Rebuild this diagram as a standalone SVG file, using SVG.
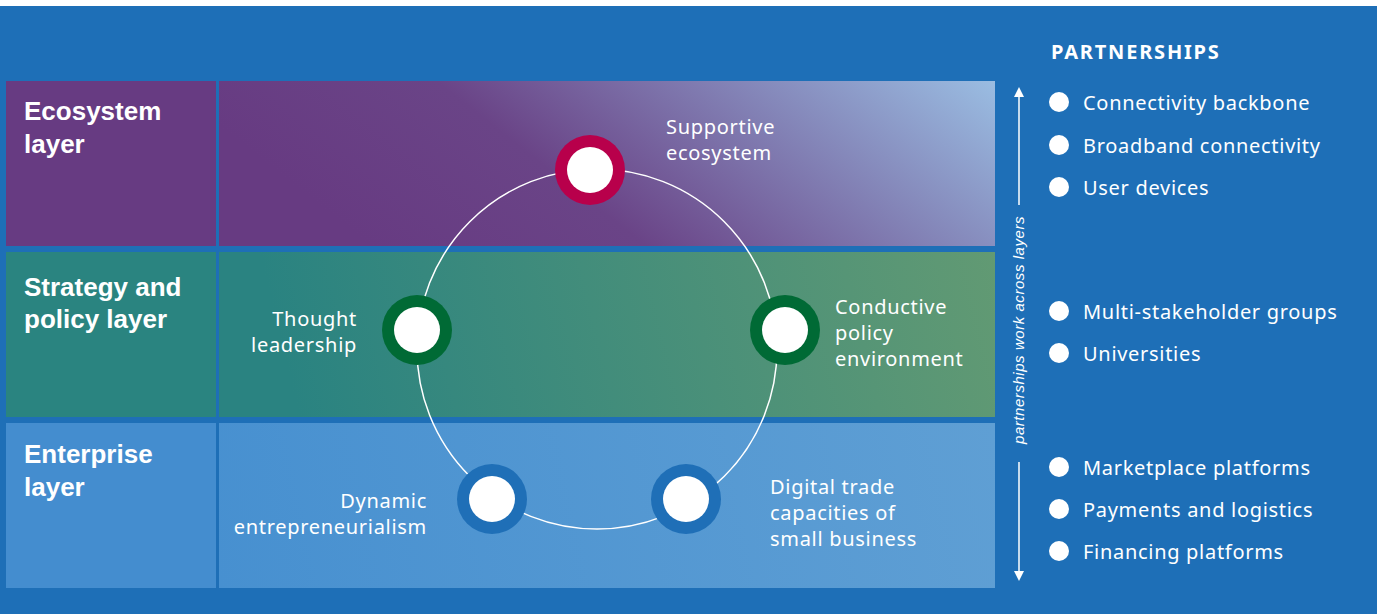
<svg xmlns="http://www.w3.org/2000/svg" width="1381" height="614" viewBox="0 0 1381 614">
<defs>
<linearGradient id="gEco" gradientUnits="userSpaceOnUse" x1="440" y1="300" x2="758" y2="-105">
<stop offset="0" stop-color="#673b82"/>
<stop offset="0.33" stop-color="#6a4487"/>
<stop offset="1" stop-color="#9abde2"/>
</linearGradient>
<linearGradient id="gStr" gradientUnits="userSpaceOnUse" x1="300" y1="420" x2="1000" y2="250">
<stop offset="0" stop-color="#2a8381"/>
<stop offset="1" stop-color="#629a73"/>
</linearGradient>
<linearGradient id="gEnt" gradientUnits="userSpaceOnUse" x1="220" y1="590" x2="995" y2="423">
<stop offset="0" stop-color="#4790d0"/>
<stop offset="1" stop-color="#5f9fd4"/>
</linearGradient>
<marker id="ah" viewBox="0 0 10 16" refX="0" refY="8" markerWidth="10" markerHeight="16" markerUnits="userSpaceOnUse" orient="auto">
<path d="M0,3 L10,8 L0,13 Z" fill="#fff"/>
</marker>
<style>
.hd{font-family:"Liberation Sans",Arial,sans-serif;font-weight:bold;font-size:26px;fill:#fff}
.lb{font-family:"Noto Sans","Liberation Sans",sans-serif;font-size:20px;letter-spacing:0.7px;fill:#fff}
.li{font-family:"Noto Sans","Liberation Sans",sans-serif;font-size:20px;letter-spacing:0.7px;fill:#fff}
.ring-r{fill:#b8004b}
.ring-g{fill:#006a35}
.ring-b{fill:#1f6fb7}
.dot{fill:#fff}
</style>
</defs>
<rect x="0" y="0" width="1381" height="614" fill="#fff"/>
<rect x="0" y="6" width="1377" height="608" fill="#1e6fb7"/>

<g id="layer-ecosystem">
<rect x="6" y="81" width="210" height="165" fill="#673b82"/>
<rect x="219" y="81" width="776" height="165" fill="url(#gEco)"/>
<text class="hd" x="24" y="120">Ecosystem</text>
<text class="hd" x="24" y="153">layer</text>
</g>
<g id="layer-strategy">
<rect x="6" y="252" width="210" height="165" fill="#2a8480"/>
<rect x="219" y="252" width="776" height="165" fill="url(#gStr)"/>
<text class="hd" x="24" y="296">Strategy and</text>
<text class="hd" x="24" y="328">policy layer</text>
</g>
<g id="layer-enterprise">
<rect x="6" y="423" width="210" height="165" fill="#448dcf"/>
<rect x="219" y="423" width="776" height="165" fill="url(#gEnt)"/>
<text class="hd" x="24" y="463">Enterprise</text>
<text class="hd" x="24" y="496">layer</text>
</g>

<g id="connectors">
<circle cx="597" cy="349" r="180" fill="none" stroke="#fff" stroke-width="1.5"/>
<line x1="1019" y1="205" x2="1019" y2="97" stroke="#fff" stroke-width="1.5" marker-end="url(#ah)"/>
<line x1="1019" y1="462" x2="1019" y2="571" stroke="#fff" stroke-width="1.5" marker-end="url(#ah)"/>
<text x="1024" y="330" transform="rotate(-90 1024 330)" text-anchor="middle" font-family="Liberation Sans, Arial, sans-serif" font-style="italic" font-size="15" letter-spacing="0.55" fill="#fff">partnerships work across layers</text>
</g>

<g id="node-supportive">
<circle class="ring-r" cx="590" cy="170" r="35"/>
<circle class="dot" cx="590" cy="170" r="23"/>
<text class="lb" x="666" y="134">Supportive</text>
<text class="lb" x="666" y="160">ecosystem</text>
</g>
<g id="node-thought">
<circle class="ring-g" cx="417" cy="330" r="35"/>
<circle class="dot" cx="417" cy="330" r="23"/>
<text class="lb" x="357" y="326" text-anchor="end">Thought</text>
<text class="lb" x="357" y="352" text-anchor="end">leadership</text>
</g>
<g id="node-conductive">
<circle class="ring-g" cx="785" cy="330" r="35"/>
<circle class="dot" cx="785" cy="330" r="23"/>
<text class="lb" x="835" y="314">Conductive</text>
<text class="lb" x="835" y="340">policy</text>
<text class="lb" x="835" y="366">environment</text>
</g>
<g id="node-dynamic">
<circle class="ring-b" cx="492" cy="499" r="35"/>
<circle class="dot" cx="492" cy="499" r="23"/>
<text class="lb" x="427" y="508" text-anchor="end">Dynamic</text>
<text class="lb" x="427" y="534" text-anchor="end">entrepreneurialism</text>
</g>
<g id="node-digital">
<circle class="ring-b" cx="686" cy="499" r="35"/>
<circle class="dot" cx="686" cy="499" r="23"/>
<text class="lb" x="770" y="494">Digital trade</text>
<text class="lb" x="770" y="520">capacities of</text>
<text class="lb" x="770" y="546">small business</text>
</g>

<g id="partnerships">
<text x="1051" y="59" font-family="Noto Sans, Liberation Sans, sans-serif" font-weight="bold" font-size="20" letter-spacing="1.8" fill="#fff">PARTNERSHIPS</text>
<circle class="dot" cx="1059" cy="102" r="10"/><text class="li" x="1083" y="110">Connectivity backbone</text>
<circle class="dot" cx="1059" cy="145" r="10"/><text class="li" x="1083" y="153">Broadband connectivity</text>
<circle class="dot" cx="1059" cy="187" r="10"/><text class="li" x="1083" y="195">User devices</text>
<circle class="dot" cx="1059" cy="311" r="10"/><text class="li" x="1083" y="319">Multi-stakeholder groups</text>
<circle class="dot" cx="1059" cy="353" r="10"/><text class="li" x="1083" y="361">Universities</text>
<circle class="dot" cx="1059" cy="467" r="10"/><text class="li" x="1083" y="475">Marketplace platforms</text>
<circle class="dot" cx="1059" cy="509" r="10"/><text class="li" x="1083" y="517">Payments and logistics</text>
<circle class="dot" cx="1059" cy="551" r="10"/><text class="li" x="1083" y="559">Financing platforms</text>
</g>
</svg>
